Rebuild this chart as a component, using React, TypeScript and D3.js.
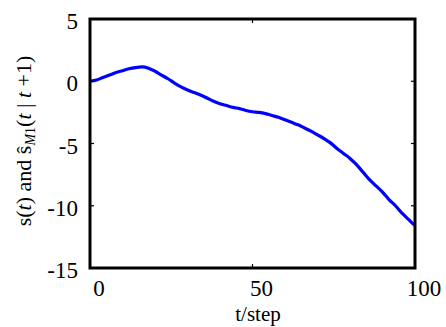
import React from 'react';
import * as d3 from 'd3';

// t/step samples and the read-off estimate curve
const steps = [0, 2, 4, 6, 8, 10, 12, 14, 16, 18, 20, 22, 24, 26, 28, 30, 32, 34, 36, 38, 40, 42, 44, 46, 48, 50,
  52, 54, 56, 58, 60, 62, 64, 66, 68, 70, 72, 74, 76, 78, 80, 82, 84, 86, 88, 90, 92, 94, 96, 98, 100];
const estimate = [0.0, 0.1, 0.3, 0.5, 0.7, 0.85, 1.0, 1.1, 1.15, 1.05, 0.8, 0.5, 0.2, -0.15, -0.45, -0.7, -0.9, -1.1,
  -1.35, -1.6, -1.8, -1.95, -2.1, -2.2, -2.35, -2.45, -2.5, -2.6, -2.75, -2.9, -3.1, -3.3, -3.5, -3.75, -4.0, -4.3,
  -4.6, -4.95, -5.4, -5.8, -6.2, -6.7, -7.3, -7.9, -8.4, -8.9, -9.5, -10.0, -10.6, -11.1, -11.6];
const xTicks = [0, 50, 100];
const yTicks = [5, 0, -5, -10, -15];

const W = 446;
const H = 327;
const margin = { top: 19, right: 31, bottom: 59, left: 90 };

export default function App() {
  const x = d3.scaleLinear().domain([0, 100]).range([margin.left, W - margin.right]);
  const y = d3.scaleLinear().domain([-15, 5]).range([H - margin.bottom, margin.top]);

  const pts = steps.map((s, i) => [s, estimate[i]] as [number, number]);
  const line = d3.line<[number, number]>()
    .x(d => x(d[0]))
    .y(d => y(d[1]))
    .curve(d3.curveMonotoneX);

  const x0 = x(0), x1 = x(100), y0 = y(-15), y1 = y(5);
  const tk = 4; // inner tick length
  const font = 'Liberation Serif, DejaVu Serif, serif';

  return (
    <svg width={W} height={H} style={{ position: 'absolute', left: 0, top: 0, background: '#fff', fontFamily: font }}>
      <path d={line(pts) || ''} fill="none" stroke="#0000ff" strokeWidth={3.2} strokeLinejoin="round" />

      {/* ticks on all four sides */}
      {xTicks.map(t => (
        <g key={'xt' + t}>
          <line x1={x(t)} x2={x(t)} y1={y0} y2={y0 - tk} stroke="#000" strokeWidth={1.2} />
          <line x1={x(t)} x2={x(t)} y1={y1} y2={y1 + tk} stroke="#000" strokeWidth={1.2} />
        </g>
      ))}
      {yTicks.map(t => (
        <g key={'yt' + t}>
          <line x1={x0} x2={x0 + tk} y1={y(t)} y2={y(t)} stroke="#000" strokeWidth={1.2} />
          <line x1={x1} x2={x1 - tk} y1={y(t)} y2={y(t)} stroke="#000" strokeWidth={1.2} />
        </g>
      ))}

      <rect x={x0} y={y1} width={x1 - x0} height={y0 - y1} fill="none" stroke="#000" strokeWidth={3} />

      {xTicks.map(t => (
        <text key={'xl' + t} x={x(t) + 9} y={296} textAnchor="middle" fontSize={23}>{t}</text>
      ))}
      {yTicks.map(t => (
        <text key={'yl' + t} x={78} y={y(t) + 10} textAnchor="end" fontSize={23}>{t}</text>
      ))}

      <text x={258} y={321} textAnchor="middle" fontSize={21}>t/step</text>

      <text transform="translate(31,141) rotate(-90)" textAnchor="middle" fontSize={22}>
        <tspan>s(</tspan>
        <tspan fontStyle="italic">t</tspan>
        <tspan>) and ŝ</tspan>
        <tspan fontStyle="italic" fontSize={14} dy={4}>M</tspan>
        <tspan fontSize={14}>1</tspan>
        <tspan dy={-4}>(</tspan>
        <tspan fontStyle="italic">t</tspan>
        <tspan> | </tspan>
        <tspan fontStyle="italic">t</tspan>
        <tspan> +1)</tspan>
      </text>
    </svg>
  );
}
